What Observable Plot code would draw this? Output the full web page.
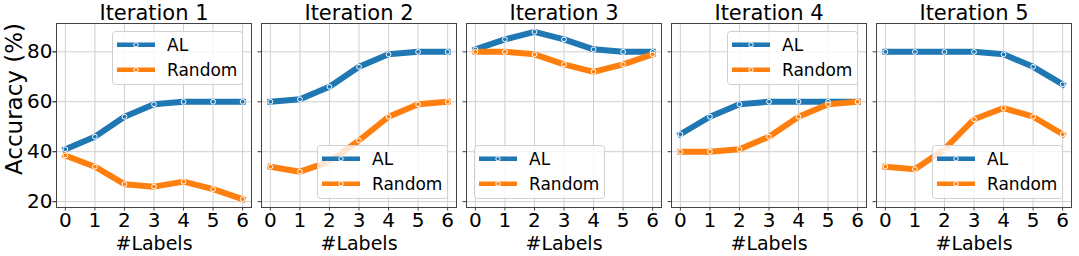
<!DOCTYPE html>
<html>
<head>
<meta charset="utf-8">
<script src="https://cdn.jsdelivr.net/npm/d3@7"></script>
<script src="https://cdn.jsdelivr.net/npm/@observablehq/plot@0.6"></script>
<style>
  html, body { margin: 0; padding: 0; background: #fff; }
  #chart { position: relative; width: 1079px; height: 256px; }
</style>
</head>
<body>
<div id="chart"></div>
<script>
// ---- data ----
const iterations = [1, 2, 3, 4, 5];
const numLabels = [0, 1, 2, 3, 4, 5, 6];
const seriesNames = ["AL", "Random"];
const seriesColors = ["#1f77b4", "#ff7f0e"];
const yTicks = [20, 40, 60, 80];
const xAxisLabel = "#Labels";
const yAxisLabel = "Accuracy (%)";

const alIter1 = [41, 46, 54, 59, 60, 60, 60];
const randomIter1 = [38.5, 34, 27, 26, 28, 25, 21];
const alIter2 = [60, 61, 66, 74, 79, 80, 80];
const randomIter2 = [34, 32, 36, 44.5, 54, 59, 60];
const alIter3 = [81, 85, 88, 85, 81, 80, 80];
const randomIter3 = [80, 80, 79, 75, 72, 75, 79];
const alIter4 = [47, 54, 59, 60, 60, 60, 60];
const randomIter4 = [40, 40, 41, 46, 54, 59, 60];
const alIter5 = [80, 80, 80, 80, 79, 74, 67];
const randomIter5 = [34, 33, 41, 53, 57.5, 54, 47];

const legendLocs = ["upper right", "lower right", "lower left", "upper right", "lower right"];

const alByIter = [alIter1, alIter2, alIter3, alIter4, alIter5];
const randomByIter = [randomIter1, randomIter2, randomIter3, randomIter4, randomIter5];

const rows = [];
iterations.forEach((it, k) => {
  numLabels.forEach((n, j) => {
    rows.push({iteration: it, labels: n, acc: alByIter[k][j], series: "AL"});
  });
  numLabels.forEach((n, j) => {
    rows.push({iteration: it, labels: n, acc: randomByIter[k][j], series: "Random"});
  });
});

const W = 1079, H = 256;
const mTop = 23, mBottom = 49, mLeft = 54, mRight = 6;
const FONT = "DejaVu Sans";

const chart = Plot.plot({
  width: W,
  height: H,
  marginTop: mTop,
  marginBottom: mBottom,
  marginLeft: mLeft,
  marginRight: mRight,
  style: {fontFamily: FONT, fontSize: "20px", color: "#000", background: "#fff"},
  fx: {domain: iterations, paddingInner: 0.05, paddingOuter: 0, label: null},
  x: {domain: [-0.3, 6.3]},
  y: {domain: [17.65, 91.35]},
  color: {domain: seriesNames, range: seriesColors},
  marks: [
    Plot.gridX(numLabels, {stroke: "#cfcfcf", strokeOpacity: 1, strokeWidth: 1}),
    Plot.gridY(yTicks, {stroke: "#cfcfcf", strokeOpacity: 1, strokeWidth: 1}),
    Plot.frame({stroke: "#444", strokeWidth: 1}),
    Plot.axisFx({anchor: "top", tickSize: 0, tickPadding: 3.5, fontSize: 21, label: null,
                 tickFormat: d => `Iteration ${d}`}),
    Plot.axisX(numLabels, {anchor: "bottom", tickSize: 3.5, tickPadding: 2, fontSize: 20,
                 stroke: "#444", label: null}),
    Plot.text([xAxisLabel], {frameAnchor: "bottom", lineAnchor: "bottom", dy: 42,
                 fontSize: 19, fill: "#000"}),
    Plot.axisY(yTicks, {anchor: "left", tickSize: 3.5, tickPadding: 0.5, fontSize: 20,
                 stroke: "#444", label: null}),
    Plot.axisY(yTicks, {anchor: "left", tickSize: 3.5, tickFormat: () => "", stroke: "#444",
                 label: null, facetAnchor: null}),
    Plot.line(rows, {fx: "iteration", x: "labels", y: "acc", stroke: "series", z: "series",
                     strokeWidth: 6, strokeLinejoin: "round", strokeLinecap: "square"}),
    Plot.dot(rows, {fx: "iteration", x: "labels", y: "acc", fill: "series",
                    stroke: "white", strokeWidth: 1, r: 2.4})
  ]
});

document.getElementById("chart").appendChild(chart);

const svg = d3.select(chart);

// ---- y axis title ----
svg.append("text")
  .attr("transform", "translate(13.5,99) rotate(-90)")
  .attr("text-anchor", "middle")
  .attr("dominant-baseline", "central")
  .attr("font-family", FONT).attr("font-size", 23).attr("fill", "#000")
  .text(yAxisLabel);

// ---- legends (one per panel, placed like matplotlib's loc strings) ----
const fx = chart.scale("fx");
const bw = fx.bandwidth;
const legW = 130, legH = 53, pad = 8.5;
iterations.forEach((it, k) => {
  const left = fx.apply(it);
  const right = left + bw;
  const top = mTop, bottom = H - mBottom;
  const loc = legendLocs[k];
  const lx = loc.includes("right") ? right - pad - legW : left + pad;
  const ly = loc.includes("upper") ? top + pad : bottom - pad - legH;
  const g = svg.append("g").attr("transform", `translate(${lx},${ly})`);
  g.append("rect").attr("width", legW).attr("height", legH).attr("rx", 3)
    .attr("fill", "#fff").attr("fill-opacity", 0.8).attr("stroke", "#d0d0d0");
  seriesNames.forEach((name, i) => {
    const cy = 13.3 + 25 * i;
    g.append("line").attr("x1", 4.5).attr("x2", 42.5).attr("y1", cy).attr("y2", cy)
      .attr("stroke", seriesColors[i]).attr("stroke-width", 4.5);
    g.append("circle").attr("cx", 23.5).attr("cy", cy).attr("r", 2.2)
      .attr("fill", seriesColors[i]).attr("stroke", "#fff").attr("stroke-width", 1);
    g.append("text").attr("x", 54.5).attr("y", cy + 6)
      .attr("text-anchor", "start")
      .attr("font-family", FONT).attr("font-size", 17).attr("fill", "#000")
      .text(name);
  });
});
</script>
</body>
</html>
